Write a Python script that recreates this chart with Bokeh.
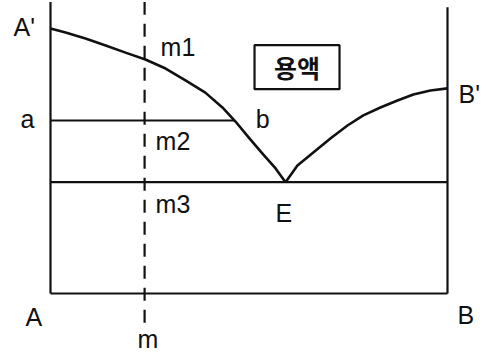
from bokeh.plotting import figure
from bokeh.models import Range1d
from bokeh.core.properties import value
from bokeh.embed import file_html
from bokeh.resources import INLINE

# ---------------- data (composition % B, temperature in arbitrary units) ----------------
left_liq_x = [0, 3.8, 8.8, 13.9, 18.9, 23.9, 29.0, 34.0, 39.0, 43.3, 46.6, 49.9, 53.4, 56.7, 59.2]
left_liq_y = [100, 98.5, 96.2, 93.6, 90.9, 88.3, 84.9, 80.4, 75.8, 70.2, 64.9, 58.9, 52.8, 47.2, 42.0]
right_liq_x = [59.2, 62.2, 66.2, 70.5, 74.8, 78.8, 83.1, 87.4, 91.4, 95.7, 100]
right_liq_y = [42.0, 48.3, 53.2, 58.5, 63.4, 67.2, 70.2, 72.8, 75.1, 76.6, 77.4]
eutectic_x = 59.2
eutectic_t = 42.0
level_a = 65.3          # temperature of line a-b
b_x = 46.4              # composition where line a meets the liquidus
m_x = 23.7              # composition m (dashed line)
axis_top = 110
dash_bottom = -11.0
labels = ["A'", "a", "m1", "m2", "m3", "b", "E", "A", "B", "B'", "m"]
liquid_label = "용액"

# ---------------- layout ----------------
W, H = 486, 355
MARGIN = 0
PX_X = (447 - 50) / 100.0
PX_Y = (293 - 28) / 100.0
x_start = -(50 - MARGIN) / PX_X
x_end = x_start + W / PX_X
y_end = (293 - MARGIN) / PX_Y
y_start = y_end - H / PX_Y

def dx(px):
    return px / PX_X

def dy(px):
    return -px / PX_Y

p = figure(width=W, height=H, output_backend="svg", toolbar_location=None,
           x_range=Range1d(x_start, x_end), y_range=Range1d(y_start, y_end),
           min_border=0, min_border_left=0, min_border_right=0,
           min_border_top=0, min_border_bottom=0)
p.axis.visible = False
p.grid.visible = False
p.outline_line_color = None
p.background_fill_color = "white"
p.border_fill_color = "white"

ink = "#111111"

# frame of the diagram
p.line([0, 0], [0, axis_top], line_color=ink, line_width=2.2)
p.line([100, 100], [0, axis_top - 2], line_color=ink, line_width=2.2)
p.line([0, 100], [0, 0], line_color=ink, line_width=2.2)
# eutectic line
p.line([0, 100], [eutectic_t, eutectic_t], line_color=ink, line_width=2.2)
# line a-b
p.line([0, b_x], [level_a, level_a], line_color=ink, line_width=2.0)
# liquidus curves
p.line(left_liq_x, left_liq_y, line_color=ink, line_width=2.6, line_join="round")
p.line(right_liq_x, right_liq_y, line_color=ink, line_width=2.6, line_join="round")
# dashed composition line m
p.line([m_x, m_x], [dash_bottom, axis_top], line_color=ink, line_width=2.2,
       line_dash="13 9")

# labels: (anchor x, anchor y, pixel offset x to left edge, pixel offset y to baseline)
SHIFT = -9
anchor = {
    "A'": (0, 100, -37, 7),
    "a": (0, level_a, -30, 8),
    "m1": (m_x, 100, 16, 27),
    "m2": (m_x, level_a, 11, 30),
    "m3": (m_x, eutectic_t, 11, 31),
    "b": (b_x, level_a, 21, 8),
    "E": (eutectic_x, eutectic_t, -10, 40),
    "A": (0, 0, -25, 32),
    "B": (100, 0, 10, 30),
    "B'": (100, 77.4, 11, 15),
    "m": (m_x, 0, -7, 54),
}
tx, ty, tt = [], [], []
for lab in labels:
    ax, ay, ox, oy = anchor[lab]
    tx.append(ax + dx(ox))
    ty.append(ay + dy(oy + SHIFT))
    tt.append(lab)
p.text(x=tx, y=ty, text=tt, text_font=value("Liberation Sans"),
       text_font_size="25px", text_color=ink, text_align="left",
       text_baseline="alphabetic")

# boxed "용액" label in the liquid region
box_cx = eutectic_x + dx(296.5 - 285)
box_cy = eutectic_t + dy(67 - 182)
p.rect(x=[box_cx], y=[box_cy], width=85, height=44, width_units="screen",
       height_units="screen", fill_color="white", line_color=ink, line_width=2.2)
p.text(x=[box_cx], y=[box_cy], text=[liquid_label],
       text_font=value("Noto Sans CJK KR"), text_font_size="25px",
       text_font_style="bold", text_color=ink, text_align="center",
       text_baseline="middle")

open("out.html", "w").write(file_html(p, INLINE))
